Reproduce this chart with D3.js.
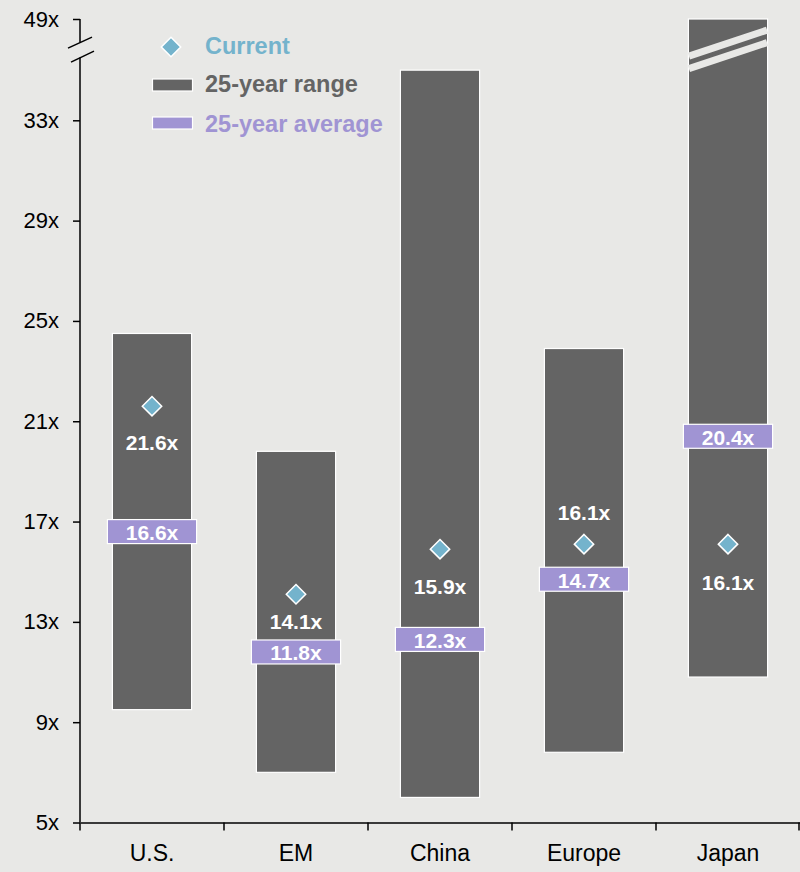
<!DOCTYPE html>
<html>
<head>
<meta charset="utf-8">
<script src="https://cdn.jsdelivr.net/npm/d3@7"></script>
<style>
  body { margin: 0; background: #e8e8e6; }
  svg { display: block; font-family: "Liberation Sans", Arial, sans-serif; }
</style>
</head>
<body>
<div id="chart"></div>
<script>
const categories = ["U.S.", "EM", "China", "Europe", "Japan"];
const rangeMin = [9.5, 7.0, 6.0, 7.8, 10.8];
const rangeMax = [24.5, 19.8, 35.0, 23.9, 49.0];
const average = [16.6, 11.8, 12.3, 14.7, 20.4];
const current = [21.6, 14.1, 15.9, 16.1, 16.1];
const yTicks = [5, 9, 13, 17, 21, 25, 29, 33, 49];

// where the "current" value label sits relative to the diamond (px, + = below)
const labelOffset = [36, 27, 37, -32, 38];

const width = 800,
      height = 872,
      margin = { top: 19, right: 0, bottom: 49.5, left: 80 };

const colors = {
  bg: "#e8e8e6",
  range: "#646464",
  avg: "#a094d3",
  current: "#74b3cc"
};

const svg = d3.select("#chart")
  .append("svg")
  .attr("width", width)
  .attr("height", height);

svg.append("rect")
  .attr("width", width)
  .attr("height", height)
  .attr("fill", colors.bg);

const x = d3.scaleBand()
  .domain(categories)
  .range([margin.left, width - margin.right])
  .padding(0);

// broken y axis: linear up to ~36x, then 49x squeezed in at the top
const bottomY = height - margin.bottom;
const perUnit = (bottomY - 120.3) / 28;
const y = d3.scaleLinear()
  .domain([5, 36, 49])
  .range([bottomY, bottomY - 31 * perUnit, margin.top]);

const barW = x.bandwidth() * 0.55;
const cx = d => x(d) + x.bandwidth() / 2;

// Range bars
svg.append("g")
  .selectAll("rect")
  .data(categories)
  .join("rect")
  .attr("x", d => cx(d) - barW / 2)
  .attr("y", (d, i) => y(rangeMax[i]))
  .attr("width", barW)
  .attr("height", (d, i) => y(rangeMin[i]) - y(rangeMax[i]))
  .attr("fill", colors.range)
  .attr("stroke", "white")
  .attr("stroke-width", 1.2);

// Break marks on the Japan bar
const breakY = y(35.8) - 0.5;
const jx = cx("Japan") - barW / 2;
[-6.5, 6].forEach(off => {
  svg.append("line")
    .attr("x1", jx + 0.5)
    .attr("y1", breakY + 13 + off)
    .attr("x2", jx + barW - 0.5)
    .attr("y2", breakY - 13 + off)
    .attr("stroke", colors.bg)
    .attr("stroke-width", 7);
});

// Average boxes
const avgG = svg.append("g");
avgG.selectAll("rect")
  .data(categories)
  .join("rect")
  .attr("x", d => cx(d) - barW / 2 - 5)
  .attr("y", (d, i) => y(average[i]) - 12)
  .attr("width", barW + 10)
  .attr("height", 24)
  .attr("fill", colors.avg)
  .attr("stroke", "white")
  .attr("stroke-width", 1.2);

avgG.selectAll("text")
  .data(categories)
  .join("text")
  .attr("x", d => cx(d))
  .attr("y", (d, i) => y(average[i]) + 1)
  .attr("text-anchor", "middle")
  .attr("dominant-baseline", "central")
  .attr("fill", "white")
  .style("font-size", "21px")
  .style("font-weight", "bold")
  .text((d, i) => average[i].toFixed(1) + "x");

// Current diamonds
const diamond = d3.symbol().type(d3.symbolDiamond2).size(240);
const curG = svg.append("g");
curG.selectAll("path")
  .data(categories)
  .join("path")
  .attr("transform", (d, i) => `translate(${cx(d)},${y(current[i])})`)
  .attr("d", diamond)
  .attr("fill", colors.current)
  .attr("stroke", "white")
  .attr("stroke-width", 1.5);

curG.selectAll("text")
  .data(categories)
  .join("text")
  .attr("x", d => cx(d))
  .attr("y", (d, i) => y(current[i]) + labelOffset[i])
  .attr("text-anchor", "middle")
  .attr("dominant-baseline", "central")
  .attr("fill", "white")
  .style("font-size", "21px")
  .style("font-weight", "bold")
  .text((d, i) => current[i].toFixed(1) + "x");

// Y-axis
const yAxis = svg.append("g")
  .attr("transform", `translate(${margin.left},0)`)
  .call(d3.axisLeft(y).tickValues(yTicks).tickSize(7).tickPadding(14).tickFormat(d => d + "x"));
yAxis.select(".domain").remove();
yAxis.selectAll("line").attr("stroke", "black").attr("stroke-width", 1.5);
yAxis.selectAll("text")
  .attr("fill", "black")
  .style("font-size", "22px");

// axis line with break
const axisBreak = y(35.8);
yAxis.append("line")
  .attr("x1", 0).attr("x2", 0)
  .attr("y1", y(49)).attr("y2", axisBreak - 7.5)
  .attr("stroke", "black").attr("stroke-width", 1.5);
yAxis.append("line")
  .attr("x1", 0).attr("x2", 0)
  .attr("y1", axisBreak + 7.5).attr("y2", bottomY)
  .attr("stroke", "black").attr("stroke-width", 1.5);
[[-12, -2, 12, -13], [-9, 12, 14, 1]].forEach(([a, b, c, e]) => {
  yAxis.append("line")
    .attr("x1", a).attr("y1", axisBreak + b)
    .attr("x2", c).attr("y2", axisBreak + e)
    .attr("stroke", "black").attr("stroke-width", 1.5);
});

// X-axis
const xAxis = svg.append("g")
  .attr("transform", `translate(0,${bottomY})`)
  .call(d3.axisBottom(x).tickSize(0).tickPadding(22));
xAxis.select(".domain")
  .attr("stroke", "black")
  .attr("stroke-width", 1.5);
xAxis.selectAll("text")
  .attr("fill", "black")
  .style("font-size", "23px");
xAxis.selectAll(".boundary")
  .data(categories.map(d => x(d)).concat([x.range()[1] - 1]))
  .join("line")
  .attr("class", "boundary")
  .attr("x1", d => d).attr("x2", d => d)
  .attr("y1", 0).attr("y2", 8)
  .attr("stroke", "black")
  .attr("stroke-width", 1.5);

// Legend
const legend = svg.append("g").attr("transform", "translate(171,0)");
legend.append("path")
  .attr("transform", "translate(0,47)")
  .attr("d", diamond)
  .attr("fill", colors.current)
  .attr("stroke", "white")
  .attr("stroke-width", 1.5);
legend.append("rect")
  .attr("x", -18.5).attr("y", 79)
  .attr("width", 40).attr("height", 12)
  .attr("fill", colors.range)
  .attr("stroke", "white").attr("stroke-width", 1.2);
legend.append("rect")
  .attr("x", -18.5).attr("y", 117)
  .attr("width", 40).attr("height", 12)
  .attr("fill", colors.avg)
  .attr("stroke", "white").attr("stroke-width", 1.2);

const legendItems = [
  { label: "Current", color: colors.current, y: 46 },
  { label: "25-year range", color: colors.range, y: 84 },
  { label: "25-year average", color: colors.avg, y: 124 }
];
legend.selectAll("text")
  .data(legendItems)
  .join("text")
  .attr("x", 34)
  .attr("y", d => d.y)
  .attr("dominant-baseline", "central")
  .attr("fill", d => d.color)
  .style("font-size", "23.5px")
  .style("font-weight", "bold")
  .text(d => d.label);
</script>
</body>
</html>
